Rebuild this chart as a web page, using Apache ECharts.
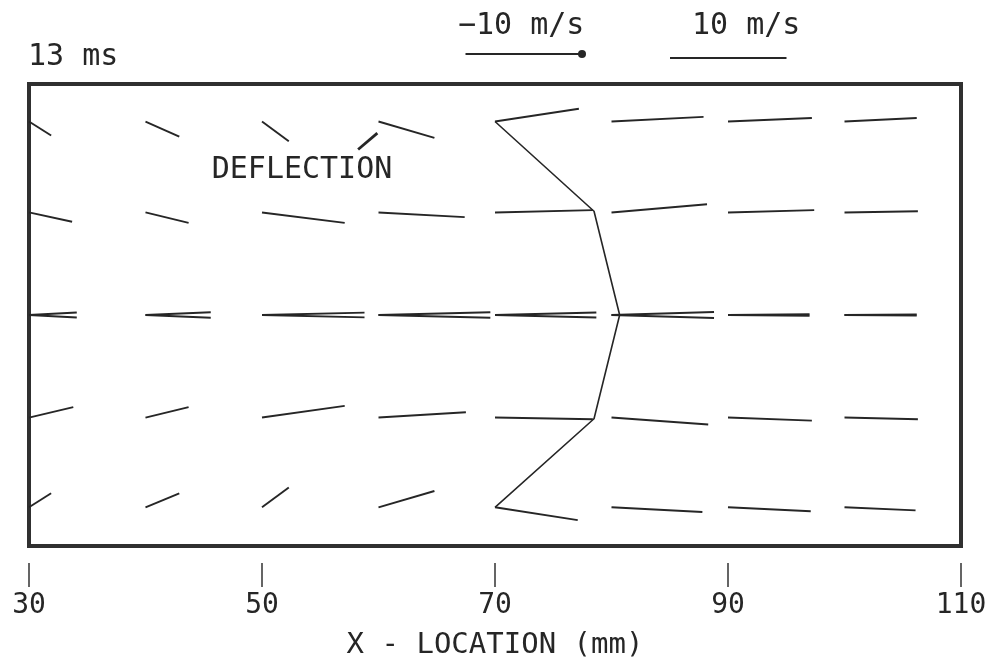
<!DOCTYPE html>
<html>
<head>
<meta charset="utf-8">
<script src="https://cdn.jsdelivr.net/npm/echarts@6/dist/echarts.min.js"></script>
<style>
html,body{margin:0;padding:0;background:#fff;}
#c{width:996px;height:667px;}
</style>
</head>
<body>
<div id="c"></div>
<script>
// ---- data (x in mm, y in mm, velocities in m/s; 1 m/s drawn as 1 mm) ----
const xCols = [30, 40, 50, 60, 70, 80, 90, 100];
const yRows = [16.6, 8.8, 0, -8.8, -16.5];
const uRow1 = [1.9, 2.9, 2.3, 4.8, 7.2, 7.9, 7.2, 6.2];
const vRow1 = [-1.2, -1.3, -1.7, -1.4, 1.1, 0.4, 0.3, 0.3];
const uRow2 = [3.7, 3.7, 7.1, 7.4, 8.4, 8.2, 7.4, 6.3];
const vRow2 = [-0.8, -0.9, -0.9, -0.4, 0.2, 0.7, 0.2, 0.1];
const uRow3 = [4.1, 5.6, 8.8, 9.6, 8.7, 8.8, 7.0, 6.2];
const vRow3 = [0.22, 0.23, 0.2, 0.23, 0.21, 0.26, 0.06, 0.05]; // drawn as a +/- pair
const uRow4 = [3.8, 3.7, 7.1, 7.5, 8.4, 8.3, 7.2, 6.3];
const vRow4 = [0.9, 0.9, 1.0, 0.45, -0.15, -0.6, -0.26, -0.15];
const uRow5 = [1.9, 2.9, 2.3, 4.8, 7.1, 7.8, 7.1, 6.1];
const vRow5 = [1.2, 1.2, 1.7, 1.4, -1.1, -0.4, -0.34, -0.26];
const frontX = [70, 78.5, 80.7, 78.5, 70];
const frontY = [16.6, 8.9, 0, -8.9, -16.5];
const pointerX = [58.25, 59.9];
const pointerY = [14.2, 15.6];
const timeLabel = '13 ms';
const noteLabel = 'DEFLECTION';
const legendNeg = '\u221210 m/s';
const legendPos = '10 m/s';
const refSpeed = 10;
const xMin = 30, xMax = 110, xStep = 20, yMin = -19.82, yMax = 19.82;

// ---- build ----
const FONT = '"DejaVu Sans Mono", "Liberation Mono", monospace';
const INK = '#262626';
const rowsU = [uRow1, uRow2, uRow3, uRow4, uRow5];
const rowsV = [vRow1, vRow2, vRow3, vRow4, vRow5];
const vecData = [];
rowsU.forEach((us, r) => {
  const y0 = yRows[r];
  us.forEach((u, c) => {
    const x0 = xCols[c];
    const v = rowsV[r][c];
    if (r === 2) {
      vecData.push({coords: [[x0, y0], [x0 + u, y0 + v]]});
      vecData.push({coords: [[x0, y0], [x0 + u, y0 - v]]});
    } else {
      vecData.push({coords: [[x0, y0], [x0 + u, y0 + v]]});
    }
  });
});
const frontData = frontX.map((x, i) => [x, frontY[i]]);
const pointerData = [{coords: pointerX.map((x, i) => [x, pointerY[i]])}];

const chart = echarts.init(document.getElementById('c'), null, {renderer: 'canvas'});
chart.setOption({
  animation: false,
  backgroundColor: '#fff',
  grid: {left: 29, top: 84, width: 932, height: 462, show: true,
         borderColor: '#303030', borderWidth: 4, backgroundColor: 'transparent',
         outerBoundsMode: 'none', containLabel: false},
  xAxis: {
    type: 'value', min: xMin, max: xMax, interval: xStep, offset: 17,
    axisLine: {show: false, onZero: false},
    axisTick: {show: true, length: 24, lineStyle: {color: '#333', width: 1.5}},
    splitLine: {show: false},
    axisLabel: {margin: 43, verticalAlign: 'middle', fontFamily: FONT, fontSize: 28,
                color: INK, showMinLabel: true, showMaxLabel: true},
    name: 'X - LOCATION (mm)', nameLocation: 'middle', nameGap: 82,
    nameTextStyle: {fontFamily: FONT, fontSize: 29, color: INK, verticalAlign: 'middle'}
  },
  yAxis: {type: 'value', min: yMin, max: yMax, show: false},
  series: [
    {type: 'lines', coordinateSystem: 'cartesian2d', silent: true,
     lineStyle: {color: INK, width: 1.9, opacity: 1, curveness: 0},
     data: vecData},
    {type: 'line', data: frontData, symbol: 'none', silent: true,
     lineStyle: {color: INK, width: 1.6}},
    {type: 'lines', coordinateSystem: 'cartesian2d', silent: true,
     lineStyle: {color: INK, width: 2.8, opacity: 1},
     data: pointerData}
  ]
});

const p0 = chart.convertToPixel({gridIndex: 0}, [xMin, 0]);
const p1 = chart.convertToPixel({gridIndex: 0}, [xMin + refSpeed, 0]);
const L = p1[0] - p0[0];
const F30 = '30px ' + FONT;
chart.setOption({
  graphic: [
    {type: 'text', x: 28, y: 57, style: {text: timeLabel, font: F30, fill: INK, align: 'left', verticalAlign: 'middle'}},
    {type: 'text', x: 302, y: 170, style: {text: noteLabel, font: F30, fill: INK, align: 'center', verticalAlign: 'middle'}},
    {type: 'text', x: 458, y: 26, style: {text: legendNeg, font: F30, fill: INK, align: 'left', verticalAlign: 'middle'}},
    {type: 'line', shape: {x1: 582 - L, y1: 54, x2: 582, y2: 54}, style: {stroke: INK, lineWidth: 2}},
    {type: 'circle', shape: {cx: 582, cy: 54, r: 4}, style: {fill: INK}},
    {type: 'text', x: 692, y: 26, style: {text: legendPos, font: F30, fill: INK, align: 'left', verticalAlign: 'middle'}},
    {type: 'line', shape: {x1: 670, y1: 58, x2: 670 + L, y2: 58}, style: {stroke: INK, lineWidth: 2}}
  ]
});
</script>
</body>
</html>
